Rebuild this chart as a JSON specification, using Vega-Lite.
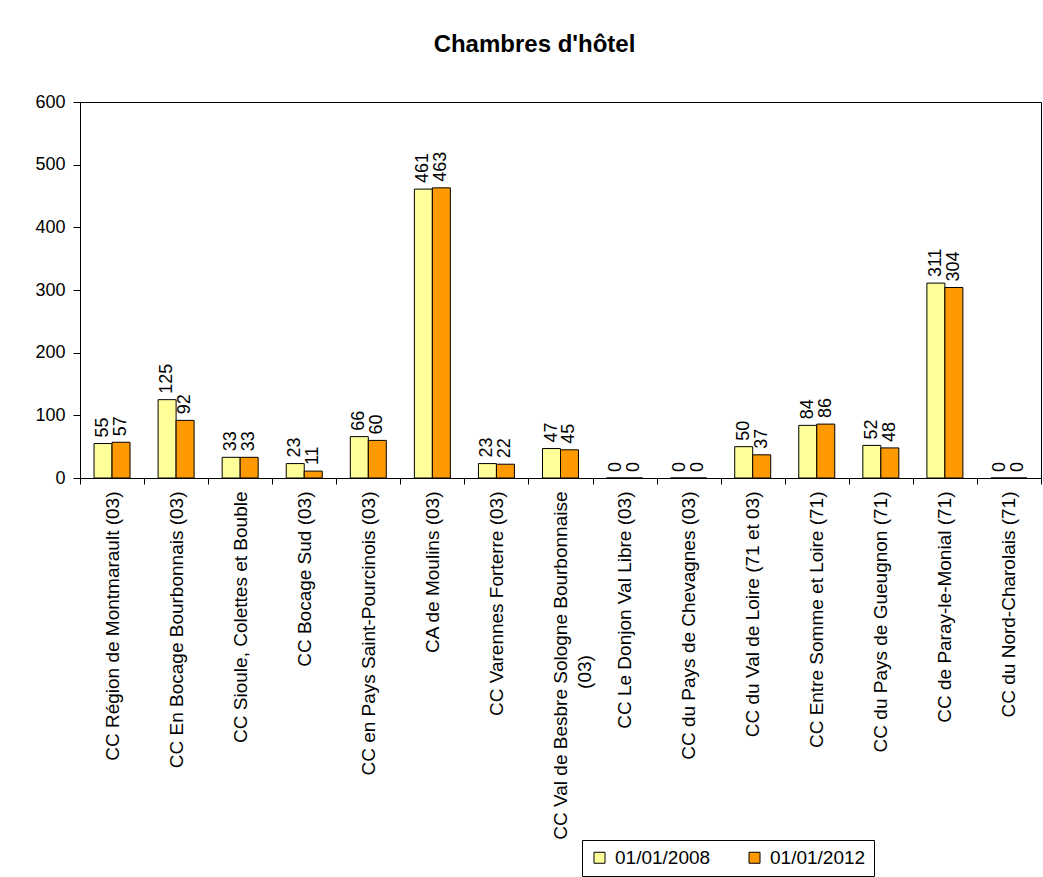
{
  "$schema": "https://vega.github.io/schema/vega-lite/v6.json",
  "autosize": {"type": "none"},
  "width": 961,
  "height": 376,
  "padding": {"left": 80, "top": 102, "right": 2, "bottom": 399},
  "background": "white",
  "title": {
    "text": "Chambres d'hôtel",
    "font": "Liberation Sans",
    "fontSize": 24,
    "fontWeight": "bold",
    "color": "black",
    "anchor": "middle",
    "dx": -26,
    "offset": 36
  },
  "data": {
    "values": [
      {"cc": "CC Région de Montmarault (03)", "date": "01/01/2008", "val": 55},
      {"cc": "CC Région de Montmarault (03)", "date": "01/01/2012", "val": 57},
      {"cc": "CC En Bocage Bourbonnais (03)", "date": "01/01/2008", "val": 125},
      {"cc": "CC En Bocage Bourbonnais (03)", "date": "01/01/2012", "val": 92},
      {"cc": "CC Sioule, Colettes et Bouble", "date": "01/01/2008", "val": 33},
      {"cc": "CC Sioule, Colettes et Bouble", "date": "01/01/2012", "val": 33},
      {"cc": "CC Bocage Sud (03)", "date": "01/01/2008", "val": 23},
      {"cc": "CC Bocage Sud (03)", "date": "01/01/2012", "val": 11},
      {"cc": "CC en Pays Saint-Pourcinois (03)", "date": "01/01/2008", "val": 66},
      {"cc": "CC en Pays Saint-Pourcinois (03)", "date": "01/01/2012", "val": 60},
      {"cc": "CA de Moulins (03)", "date": "01/01/2008", "val": 461},
      {"cc": "CA de Moulins (03)", "date": "01/01/2012", "val": 463},
      {"cc": "CC Varennes Forterre (03)", "date": "01/01/2008", "val": 23},
      {"cc": "CC Varennes Forterre (03)", "date": "01/01/2012", "val": 22},
      {"cc": "CC Val de Besbre Sologne Bourbonnaise (03)", "date": "01/01/2008", "val": 47},
      {"cc": "CC Val de Besbre Sologne Bourbonnaise (03)", "date": "01/01/2012", "val": 45},
      {"cc": "CC Le Donjon Val Libre (03)", "date": "01/01/2008", "val": 0},
      {"cc": "CC Le Donjon Val Libre (03)", "date": "01/01/2012", "val": 0},
      {"cc": "CC du Pays de Chevagnes (03)", "date": "01/01/2008", "val": 0},
      {"cc": "CC du Pays de Chevagnes (03)", "date": "01/01/2012", "val": 0},
      {"cc": "CC du Val de Loire (71 et 03)", "date": "01/01/2008", "val": 50},
      {"cc": "CC du Val de Loire (71 et 03)", "date": "01/01/2012", "val": 37},
      {"cc": "CC Entre Somme et Loire (71)", "date": "01/01/2008", "val": 84},
      {"cc": "CC Entre Somme et Loire (71)", "date": "01/01/2012", "val": 86},
      {"cc": "CC du Pays de Gueugnon (71)", "date": "01/01/2008", "val": 52},
      {"cc": "CC du Pays de Gueugnon (71)", "date": "01/01/2012", "val": 48},
      {"cc": "CC de Paray-le-Monial (71)", "date": "01/01/2008", "val": 311},
      {"cc": "CC de Paray-le-Monial (71)", "date": "01/01/2012", "val": 304},
      {"cc": "CC du Nord-Charolais (71)", "date": "01/01/2008", "val": 0},
      {"cc": "CC du Nord-Charolais (71)", "date": "01/01/2012", "val": 0}
    ]
  },
  "encoding": {
    "x": {
      "field": "cc",
      "type": "nominal",
      "sort": null,
      "title": null,
      "scale": {"paddingInner": 0, "paddingOuter": 0},
      "axis": {
        "labelAngle": -90,
        "labelAlign": "right",
        "labelBaseline": "middle",
        "labelFont": "Liberation Sans",
        "labelFontSize": 19,
        "labelLineHeight": 24,
        "labelColor": "black",
        "labelPadding": 7,
        "labelLimit": 450,
        "tickBand": "extent",
        "tickSize": 6,
        "tickColor": "black",
        "domainColor": "black",
        "labelExpr": "datum.label == 'CC Val de Besbre Sologne Bourbonnaise (03)' ? ['CC Val de Besbre Sologne Bourbonnaise', '(03)\u00a0\u00a0\u00a0\u00a0\u00a0\u00a0\u00a0\u00a0\u00a0\u00a0\u00a0\u00a0\u00a0\u00a0\u00a0\u00a0\u00a0\u00a0\u00a0\u00a0\u00a0\u00a0\u00a0\u00a0\u00a0\u00a0\u00a0\u00a0\u00a0\u00a0\u00a0\u200b'] : datum.label"
      }
    },
    "xOffset": {"field": "date", "type": "nominal", "scale": {"paddingOuter": 0.78, "paddingInner": 0}},
    "y": {
      "field": "val",
      "type": "quantitative",
      "title": null,
      "scale": {"domain": [0, 600], "nice": false},
      "axis": {
        "values": [0, 100, 200, 300, 400, 500, 600],
        "grid": false,
        "labelFont": "Liberation Sans",
        "labelFontSize": 18,
        "labelColor": "black",
        "labelPadding": 8,
        "tickSize": 7,
        "tickColor": "black",
        "domainColor": "black"
      }
    }
  },
  "layer": [
    {
      "mark": {"type": "bar", "stroke": "black", "strokeWidth": 1},
      "encoding": {
        "color": {
          "field": "date",
          "type": "nominal",
          "scale": {"domain": ["01/01/2008", "01/01/2012"], "range": ["#FFFF99", "#FF9900"]},
          "legend": {
            "title": null,
            "orient": "none",
            "direction": "horizontal",
            "legendX": 502,
            "legendY": 738,
            "symbolType": "square",
            "symbolSize": 121,
            "symbolStrokeColor": "black",
            "symbolStrokeWidth": 1,
            "symbolOpacity": 1,
            "labelFont": "Liberation Sans",
            "labelFontSize": 19,
            "labelColor": "black",
            "labelOffset": 6,
            "columnPadding": 34,
            "padding": 8,
            "strokeColor": "black",
            "fillColor": "white"
          }
        }
      }
    },
    {
      "mark": {"type": "text", "angle": -90, "align": "left", "baseline": "middle", "dx": 6, "font": "Liberation Sans", "fontSize": 18, "color": "black"},
      "encoding": {"text": {"field": "val", "type": "quantitative"}}
    }
  ],
  "config": {
    "view": {"stroke": "black", "strokeWidth": 1}
  }
}
